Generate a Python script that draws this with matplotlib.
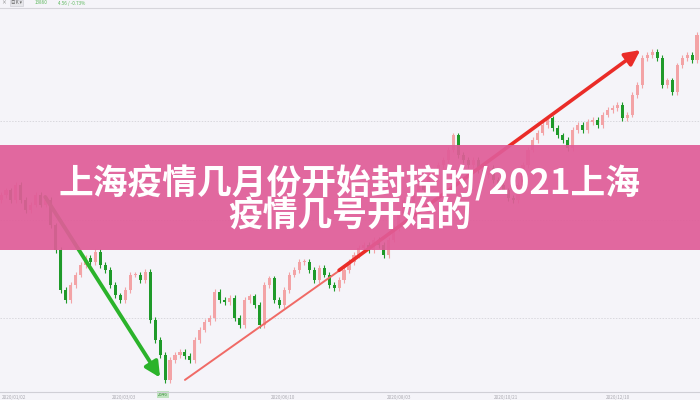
import matplotlib
matplotlib.use("Agg")
import matplotlib.pyplot as plt
from matplotlib.patches import Rectangle

plt.rcParams['font.family'] = ['Noto Sans CJK SC', 'DejaVu Sans']

# ---- data ----
closes = [
    3220, 3235, 3205, 3251, 3205, 3174, 3190, 3220, 3190, 3205,
    3128, 3052, 2930, 2899, 2945, 2976, 3006, 3028, 3015, 3046,
    3006, 2991, 2945, 2914, 2899, 2930, 2976, 2976, 2960, 2985,
    2838, 2777, 2731, 2655, 2716, 2731, 2740, 2728, 2716, 2777,
    2808, 2832, 2844, 2924, 2899, 2893, 2905, 2844, 2823, 2899,
    2911, 2884, 2823, 2945, 2966, 2899, 2884, 2930, 2976, 2991,
    3015, 3015, 2991, 2960, 2997, 2976, 2945, 2936, 2960, 2991,
    3015, 3037, 3058, 3067, 3052, 3083, 3067, 3037, 3083, 3119,
    3159, 3205, 3190, 3220, 3251, 3235, 3281, 3296, 3312, 3327,
    3358, 3403, 3342, 3327, 3312, 3327, 3296, 3281, 3303, 3266,
    3251, 3235, 3211, 3205, 3251, 3312, 3358, 3388, 3410, 3434,
    3455, 3425, 3403, 3388, 3364, 3419, 3434, 3419, 3443, 3449,
    3434, 3465, 3480, 3486, 3495, 3455, 3465, 3526, 3556, 3639,
    3648, 3657, 3639, 3556, 3571, 3535, 3617, 3639, 3648, 3633,
    3709,
]
first_open = 3205
wick = 8

date_labels = ["2020/01/02", "2020/03/03", "2020/06/10", "2020/08/03", "2020/10/21", "2020/12/10"]
date_index = [2.6, 24.8, 56.8, 80.1, 101.6, 124.1]

low_label = "2646"
low_index = 32.5

# trend arrows: (start index, start value, end index, end value)
down_trend = (8.9, 3214, 32.0, 2662)
up_trend_thin = (37.0, 2655, 70.0, 3010)
up_trend = (68.0, 2990, 128.6, 3663)

grid_levels = [3446, 3144, 2844]

title_line1 = "上海疫情几月份开始封控的/2021上海"
title_line2 = "疫情几号开始的"

# ---- figure ----
BG = "#f5f4f9"
fig = plt.figure(figsize=(7, 4), dpi=100, facecolor=BG)
ax = fig.add_axes([0, 0, 1, 1])
ax.set_facecolor(BG)
ax.axis('off')
ax.set_xlim(-0.2, 140.6)
ax.set_ylim(2593.6, 3816)

for g in grid_levels:
    ax.axhline(g, color="#d9d8de", lw=0.7, ls=(0, (1.5, 1.5)), zorder=0)

up_col = "#f3a3a6"
dn_col = "#1f9a2a"
opens = [first_open] + closes[:-1]
for i, (o, c) in enumerate(zip(opens, closes)):
    col = up_col if c >= o else dn_col
    hi = max(o, c) + wick
    lo = min(o, c) - wick
    ax.vlines(i, lo, hi, color=col, lw=0.8, zorder=2)
    h = abs(c - o)
    if h < 4:
        h = 4
    ax.bar(i, h, bottom=min(o, c), width=0.62, color=col, linewidth=0, zorder=2)

# trend arrows
ax.annotate("", xy=(down_trend[2], down_trend[3]), xytext=(down_trend[0], down_trend[1]),
            arrowprops=dict(arrowstyle="-|>,head_length=0.9,head_width=0.45", color="#2bb32b",
                            lw=2.8, shrinkA=0, shrinkB=0), zorder=4)
ax.plot([up_trend_thin[0], up_trend_thin[2]], [up_trend_thin[1], up_trend_thin[3]],
        color="#f06a66", lw=1.4, solid_capstyle='round', zorder=4)
ax.annotate("", xy=(up_trend[2], up_trend[3]), xytext=(up_trend[0], up_trend[1]),
            arrowprops=dict(arrowstyle="-|>,head_length=0.9,head_width=0.45", color="#ea2c28",
                            lw=2.6, shrinkA=0, shrinkB=0), zorder=4)

# low label
ax.text(low_index, 2611, low_label, fontsize=3.2, color="#3f8f3f", ha='center', va='center',
        bbox=dict(boxstyle="square,pad=0.25", fc="#bfe3bf", ec="none"), zorder=5)

# bottom axis line and date labels
fig.add_artist(plt.Line2D([0, 1], [1 - 392 / 400] * 2, color="#d0cfd6", lw=0.8))
for lab, xi in zip(date_labels, date_index):
    ax.text(xi, 2600, lab, fontsize=3.3, color="#a9a8b0", ha='center', va='center')

# top strip
fig.add_artist(plt.Line2D([0, 1], [1 - 7.5 / 400] * 2, color="#d6d5db", lw=0.8))
fig.text(0.001, 1 - 3 / 400, "×", fontsize=3.5, color="#777777", va='center')
fig.text(0.016, 1 - 3 / 400, "日K ▾", fontsize=3.3, color="#666666", va='center',
         bbox=dict(boxstyle="square,pad=0.2", fc="#e6e6ea", ec="#c9c9cf", lw=0.4))
fig.text(0.05, 1 - 3 / 400, "13860", fontsize=3.3, color="#5cb85c", va='center')
fig.text(0.083, 1 - 3 / 400, "4.56 / -0.73%", fontsize=3.3, color="#5cb85c", va='center')

# pink banner
fig.add_artist(Rectangle((0, 1 - 250 / 400), 1, 105 / 400, transform=fig.transFigure,
                         facecolor="#e05c98", alpha=0.92, edgecolor='none', zorder=10))
fig.text(0.5, 1 - 183 / 400, title_line1, fontsize=25, fontweight='heavy', color='white',
         ha='center', va='center', zorder=11)
fig.text(0.5, 1 - 216 / 400, title_line2, fontsize=25, fontweight='heavy', color='white',
         ha='center', va='center', zorder=11)

fig.savefig("out.png", dpi=100, facecolor=BG)
